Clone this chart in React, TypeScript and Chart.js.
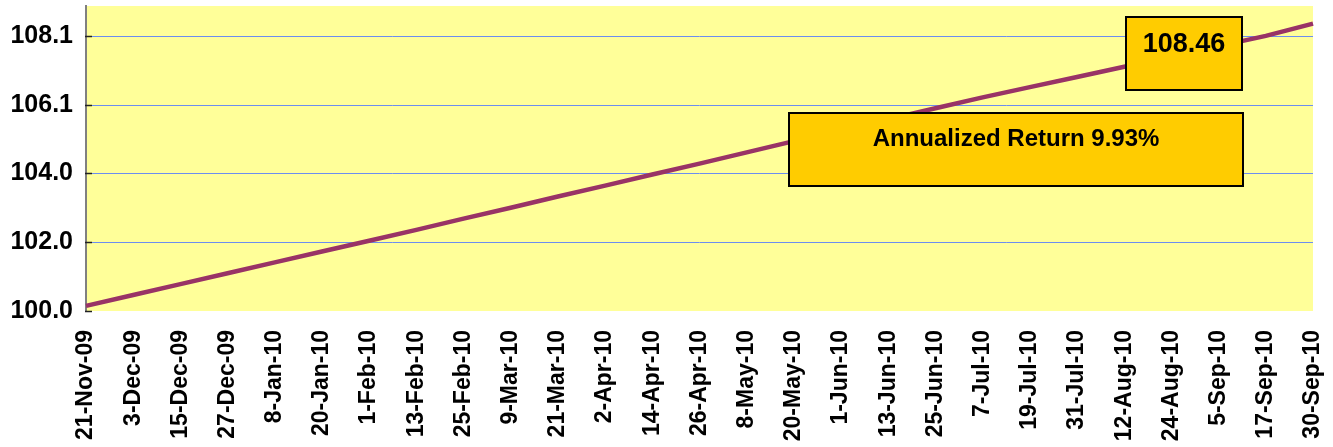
import React, { useEffect, useRef } from "react";
import { Chart, registerables } from "chart.js";

Chart.register(...registerables);

// ---- data ----
const dateLabels: string[] = [
  "21-Nov-09", "3-Dec-09", "15-Dec-09", "27-Dec-09", "8-Jan-10", "20-Jan-10",
  "1-Feb-10", "13-Feb-10", "25-Feb-10", "9-Mar-10", "21-Mar-10", "2-Apr-10",
  "14-Apr-10", "26-Apr-10", "8-May-10", "20-May-10", "1-Jun-10", "13-Jun-10",
  "25-Jun-10", "7-Jul-10", "19-Jul-10", "31-Jul-10", "12-Aug-10", "24-Aug-10",
  "5-Sep-10", "17-Sep-10", "30-Sep-10",
];

const navValues: number[] = [
  100.15, 100.47, 100.79, 101.11, 101.43, 101.75,
  102.07, 102.39, 102.72, 103.04, 103.37, 103.69,
  104.02, 104.34, 104.67, 105.0, 105.32, 105.65,
  105.97, 106.29, 106.59, 106.89, 107.19, 107.5,
  107.8, 108.1, 108.46,
];

const yTickValues: number[] = [100, 102.025, 104.05, 106.075, 108.1];
const yTickLabels: string[] = ["100.0", "102.0", "104.0", "106.1", "108.1"];
const yMin = 100;
const yMax = 108.98;

const endValueText = "108.46";
const returnText = "Annualized Return 9.93%";

// ---- annotation layout (fractions of plot area) ----
const endBox = { l: 0.8476, r: 0.9421, t: 0.036, b: 0.2754, ty: 0.38, font: "bold 27px 'Liberation Sans', Arial, sans-serif" };
const returnBox = { l: 0.5729, r: 0.943, t: 0.3508, b: 0.5902, ty: 0.356, font: "bold 24px 'Liberation Sans', Arial, sans-serif" };

const chartPlugin = {
  id: "decor",
  beforeDraw(chart: any) {
    const { ctx, chartArea: a } = chart;
    ctx.save();
    ctx.fillStyle = "#FFFF99";
    ctx.fillRect(a.left, a.top, a.right - a.left, a.bottom - a.top);
    ctx.restore();
  },
  beforeDatasetsDraw(chart: any) {
    const { ctx, chartArea: a } = chart;
    const ys = chart.scales.y;
    ctx.save();
    ctx.strokeStyle = "#6C8EF0";
    ctx.lineWidth = 1;
    yTickValues.forEach((v) => {
      if (v === yMin) return;
      const py = Math.round(ys.getPixelForValue(v)) + 0.5;
      ctx.beginPath();
      ctx.moveTo(a.left, py);
      ctx.lineTo(a.right, py);
      ctx.stroke();
    });
    ctx.restore();
  },
  afterDraw(chart: any) {
    const { ctx, chartArea: a } = chart;
    const ys = chart.scales.y;
    ctx.save();
    // inner tick marks on the value axis
    ctx.strokeStyle = "#222222";
    ctx.lineWidth = 1.5;
    yTickValues.forEach((v) => {
      const py = Math.round(ys.getPixelForValue(v)) + 0.5;
      ctx.beginPath();
      ctx.moveTo(a.left - 1, py);
      ctx.lineTo(a.left + 6, py);
      ctx.stroke();
    });
    const w = a.right - a.left;
    const h = a.bottom - a.top;
    const drawBox = (b: any, text: string) => {
      const x0 = Math.round(a.left + b.l * w);
      const x1 = Math.round(a.left + b.r * w);
      const y0 = Math.round(a.top + b.t * h);
      const y1 = Math.round(a.top + b.b * h);
      ctx.fillStyle = "#FFCC00";
      ctx.fillRect(x0, y0, x1 - x0, y1 - y0);
      ctx.strokeStyle = "#000000";
      ctx.lineWidth = 2;
      ctx.strokeRect(x0, y0, x1 - x0, y1 - y0);
      ctx.fillStyle = "#000000";
      ctx.font = b.font;
      ctx.textAlign = "center";
      ctx.textBaseline = "middle";
      ctx.fillText(text, (x0 + x1) / 2, y0 + b.ty * (y1 - y0));
    };
    drawBox(endBox, endValueText);
    drawBox(returnBox, returnText);
    ctx.restore();
  },
};

export default function App() {
  const canvasRef = useRef<HTMLCanvasElement | null>(null);

  useEffect(() => {
    if (!canvasRef.current) return;
    const chart = new Chart(canvasRef.current, {
      type: "line",
      data: {
        labels: dateLabels,
        datasets: [
          {
            data: navValues,
            borderColor: "#993366",
            borderWidth: 4.5,
            pointRadius: 0,
            tension: 0,
            fill: false,
          },
        ],
      },
      options: {
        animation: false,
        responsive: true,
        maintainAspectRatio: false,
        layout: { padding: { top: 6, right: 20, left: 0, bottom: 0 } },
        plugins: { legend: { display: false }, tooltip: { enabled: false } },
        scales: {
          x: {
            type: "category",
            offset: false,
            grid: { display: false, drawTicks: false },
            border: { display: false },
            ticks: {
              autoSkip: false,
              maxRotation: 90,
              minRotation: 90,
              padding: 19,
              color: "#000000",
              font: { family: "'Liberation Sans', Arial, sans-serif", size: 23, weight: "bold" },
            },
            afterFit: (s: any) => {
              s.height = 136;
              s.paddingLeft = 0;
              s.paddingRight = 0;
            },
          },
          y: {
            type: "linear",
            min: yMin,
            max: yMax,
            grid: { display: false, drawTicks: false },
            border: { display: true, color: "#808080", width: 2 },
            afterBuildTicks: (s: any) => {
              s.ticks = yTickValues.map((v) => ({ value: v }));
            },
            ticks: {
              padding: 13,
              color: "#000000",
              font: { family: "'Liberation Sans', Arial, sans-serif", size: 25, weight: "bold" },
              callback: (_v: any, i: number) => yTickLabels[i],
            },
            afterFit: (s: any) => {
              s.width = 86;
              s.paddingTop = 0;
              s.paddingBottom = 0;
            },
          },
        },
      },
      plugins: [chartPlugin],
    } as any);
    return () => chart.destroy();
  }, []);

  return (
    <div style={{ position: "fixed", left: 0, top: 0, width: 1333, height: 447, background: "#ffffff" }}>
      <canvas ref={canvasRef} />
    </div>
  );
}
